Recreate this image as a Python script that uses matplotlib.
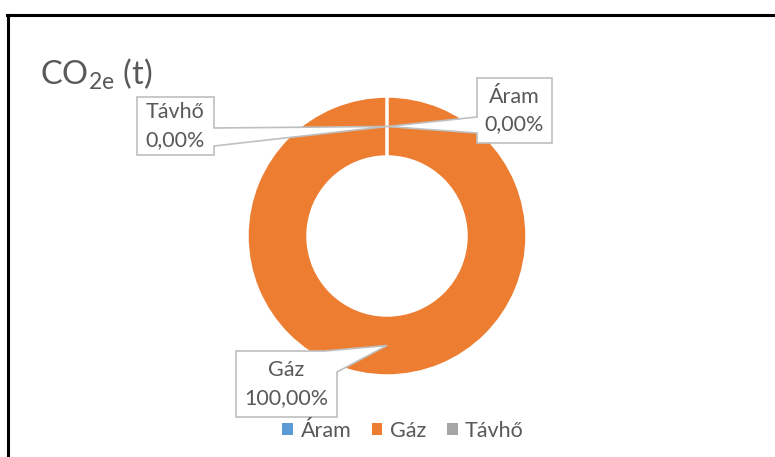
import matplotlib
matplotlib.use("Agg")
import matplotlib.pyplot as plt
import numpy as np
from matplotlib.patches import Polygon, Patch
from matplotlib.lines import Line2D

# data
categories = ["Áram", "Gáz", "Távhő"]
values = [0.0, 100.0, 0.0]
colors = ["#5B9BD5", "#ED7D31", "#A5A5A5"]
title = r"CO$_{\mathrm{2e}}$ (t)"

plt.rcParams['font.family'] = ['Lato', 'DejaVu Sans']
plt.rcParams['mathtext.fontset'] = 'custom'
plt.rcParams['mathtext.rm'] = 'Lato'
txt_col = "#595959"

W, H = 775, 457
fig = plt.figure(figsize=(W / 100, H / 100), dpi=100)
ax = fig.add_axes([0, 0, 1, 1])

cx, cy = 387, H - 236
R, ring = 140, 61
wedges, _ = ax.pie(values, colors=colors, startangle=90, counterclock=False,
                   center=(cx, cy), radius=R, frame=True,
                   wedgeprops=dict(width=ring, edgecolor='white', linewidth=2.5))
ax.set_xlim(0, W)
ax.set_ylim(0, H)
ax.set_aspect('equal')
ax.axis('off')

total = sum(values)

# label boxes (x0, x1, y_top, y_bottom in pixel rows from top) and pointer base
boxes = {
    "Távhő": dict(x0=137, x1=214, yt=97, yb=155, side='right', b1=128, b2=146),
    "Áram": dict(x0=477, x1=552, yt=78, yb=143, side='left', b1=117, b2=133),
    "Gáz": dict(x0=236, x1=337, yt=351, yb=417, side='corner', b1=325, b2=372),
}

for w, name, v in zip(wedges, categories, values):
    mid = np.deg2rad((w.theta1 + w.theta2) / 2)
    rm = R - ring / 2
    tip = (cx + rm * np.cos(mid), cy + rm * np.sin(mid))
    b = boxes[name]
    x0, x1 = b['x0'], b['x1']
    yt, yb = H - b['yt'], H - b['yb']
    if b['side'] == 'right':
        pts = [(x0, yt), (x1, yt), (x1, H - b['b1']), tip, (x1, H - b['b2']),
               (x1, yb), (x0, yb)]
    elif b['side'] == 'left':
        pts = [(x0, yt), (x1, yt), (x1, yb), (x0, yb), (x0, H - b['b2']), tip,
               (x0, H - b['b1'])]
    else:
        pts = [(x0, yt), (b['b1'], yt), tip, (x1, H - b['b2']), (x1, yb), (x0, yb)]
    ax.add_patch(Polygon(pts, closed=True, facecolor='white', edgecolor='#BFBFBF',
                         linewidth=1.2, zorder=5))
    pct = f"{v / total * 100:.2f}%".replace('.', ',')
    ax.text((x0 + x1) / 2, (yt + yb) / 2, f"{name}\n{pct}", ha='center', va='center',
            fontsize=15.5, color=txt_col, linespacing=1.45, zorder=6)

fig.text(40 / W, 1 - 84 / H, title, fontsize=23.5, color=txt_col, va='baseline', ha='left')

handles = [Patch(facecolor=c, edgecolor='none') for c in colors]
fig.legend(handles, categories, loc='center', bbox_to_anchor=(403 / W, 1 - 431 / H),
           ncol=3, frameon=False, fontsize=15.5, handlelength=0.5, handleheight=0.5,
           handletextpad=0.35, columnspacing=0.95, labelcolor=txt_col)

# chart border
fig.add_artist(Line2D([7 / W, 1], [1 - 15 / H, 1 - 15 / H], color='black', lw=2.2))
fig.add_artist(Line2D([7.5 / W, 7.5 / W], [0, 1 - 15 / H], color='black', lw=2.2))

fig.savefig("out.png", dpi=100)
